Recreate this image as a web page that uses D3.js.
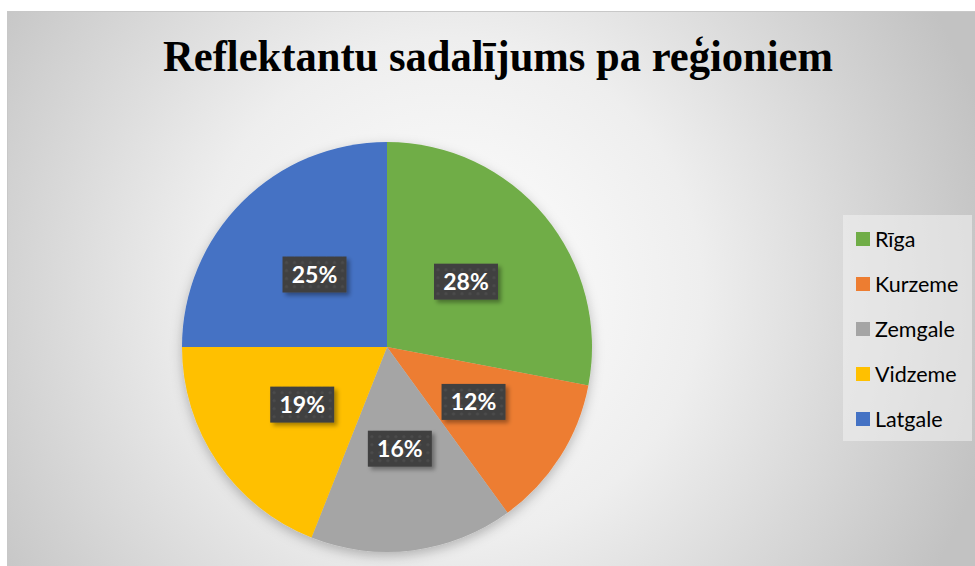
<!DOCTYPE html>
<html>
<head>
<meta charset="utf-8">
<script src="https://cdn.jsdelivr.net/npm/d3@7"></script>
<style>
  body { margin: 0; background: #fff; }
  svg { display: block; }
</style>
</head>
<body>
<div id="chart"></div>
<script>
const regions = ['Rīga', 'Kurzeme', 'Zemgale', 'Vidzeme', 'Latgale'];
const shares = [28, 12, 16, 19, 25];
const colors = ['#70AD47', '#ED7D31', '#A5A5A5', '#FFC000', '#4472C4'];
const title = 'Reflektantu sadalījums pa reģioniem';

const width = 975, height = 566;
const cx = 387, cy = 347, radius = 205;

const svg = d3.select('#chart')
  .append('svg')
    .attr('width', width)
    .attr('height', height);

const defs = svg.append('defs');

const bg = defs.append('radialGradient')
  .attr('id', 'bg')
  .attr('gradientUnits', 'userSpaceOnUse')
  .attr('cx', 450).attr('cy', 290).attr('r', 560);
bg.append('stop').attr('offset', '0%').attr('stop-color', '#ffffff');
bg.append('stop').attr('offset', '45%').attr('stop-color', '#eeeeee');
bg.append('stop').attr('offset', '100%').attr('stop-color', '#c2c2c2');

const shadow = defs.append('filter')
  .attr('id', 'pieShadow')
  .attr('x', '-20%').attr('y', '-20%').attr('width', '140%').attr('height', '140%');
shadow.append('feDropShadow')
  .attr('dx', 0).attr('dy', 4).attr('stdDeviation', 6)
  .attr('flood-color', '#000').attr('flood-opacity', 0.25);

const boxShadow = defs.append('filter')
  .attr('id', 'boxShadow')
  .attr('x', '-30%').attr('y', '-30%').attr('width', '160%').attr('height', '160%');
boxShadow.append('feDropShadow')
  .attr('dx', 3).attr('dy', 3).attr('stdDeviation', 2)
  .attr('flood-color', '#000').attr('flood-opacity', 0.35);

const dots = defs.append('pattern')
  .attr('id', 'dots')
  .attr('patternUnits', 'userSpaceOnUse')
  .attr('width', 8).attr('height', 8);
dots.append('rect').attr('width', 8).attr('height', 8).attr('fill', '#404040');
dots.append('circle').attr('cx', 4).attr('cy', 4).attr('r', 1.6).attr('fill', '#4c4c4c');

// chart area
svg.append('rect')
  .attr('x', 7.5).attr('y', 11.5)
  .attr('width', width).attr('height', height)
  .attr('fill', 'url(#bg)')
  .attr('stroke', '#c8c8c8');

svg.append('text')
  .attr('x', 498).attr('y', 71)
  .attr('text-anchor', 'middle')
  .attr('font-family', '"Liberation Serif", "Times New Roman", serif')
  .attr('font-weight', 'bold')
  .attr('font-size', 44)
  .attr('textLength', 670)
  .attr('lengthAdjust', 'spacingAndGlyphs')
  .attr('fill', '#000')
  .text(title);

const pie = d3.pie().sort(null).value((d) => d);
const arcs = pie(shares);
const arc = d3.arc().innerRadius(0).outerRadius(radius);

const g = svg.append('g')
  .attr('transform', `translate(${cx}, ${cy})`);

g.append('g')
  .attr('filter', 'url(#pieShadow)')
  .selectAll('path')
  .data(arcs)
  .join('path')
    .attr('d', arc)
    .attr('fill', (d, i) => colors[i]);

const labels = g.selectAll('g.label')
  .data(arcs)
  .join('g')
    .attr('class', 'label')
    .attr('transform', (d) => `translate(${arc.centroid(d)})`);

labels.append('rect')
  .attr('x', -32).attr('y', -18)
  .attr('width', 64).attr('height', 36)
  .attr('fill', 'url(#dots)')
  .attr('filter', 'url(#boxShadow)');

labels.append('text')
  .attr('text-anchor', 'middle')
  .attr('dy', '0.36em')
  .attr('font-family', 'Lato, "Open Sans", sans-serif')
  .attr('font-weight', 'bold')
  .attr('font-size', 23)
  .attr('fill', '#fff')
  .text((d) => d.data + '%');

// legend
const legend = svg.append('g');
legend.append('rect')
  .attr('x', 843).attr('y', 215)
  .attr('width', 129).attr('height', 226)
  .attr('fill', '#f2f2f2')
  .attr('fill-opacity', 0.55);

const item = legend.selectAll('g.item')
  .data(regions)
  .join('g')
    .attr('class', 'item')
    .attr('transform', (d, i) => `translate(856, ${239 + i * 45})`);

item.append('rect')
  .attr('x', 0).attr('y', -7)
  .attr('width', 14).attr('height', 14)
  .attr('fill', (d, i) => colors[i]);

item.append('text')
  .attr('x', 19)
  .attr('dy', '0.36em')
  .attr('font-family', 'Lato, "Open Sans", sans-serif')
  .attr('font-size', 21.5)
  .attr('fill', '#000')
  .text((d) => d);
</script>
</body>
</html>
